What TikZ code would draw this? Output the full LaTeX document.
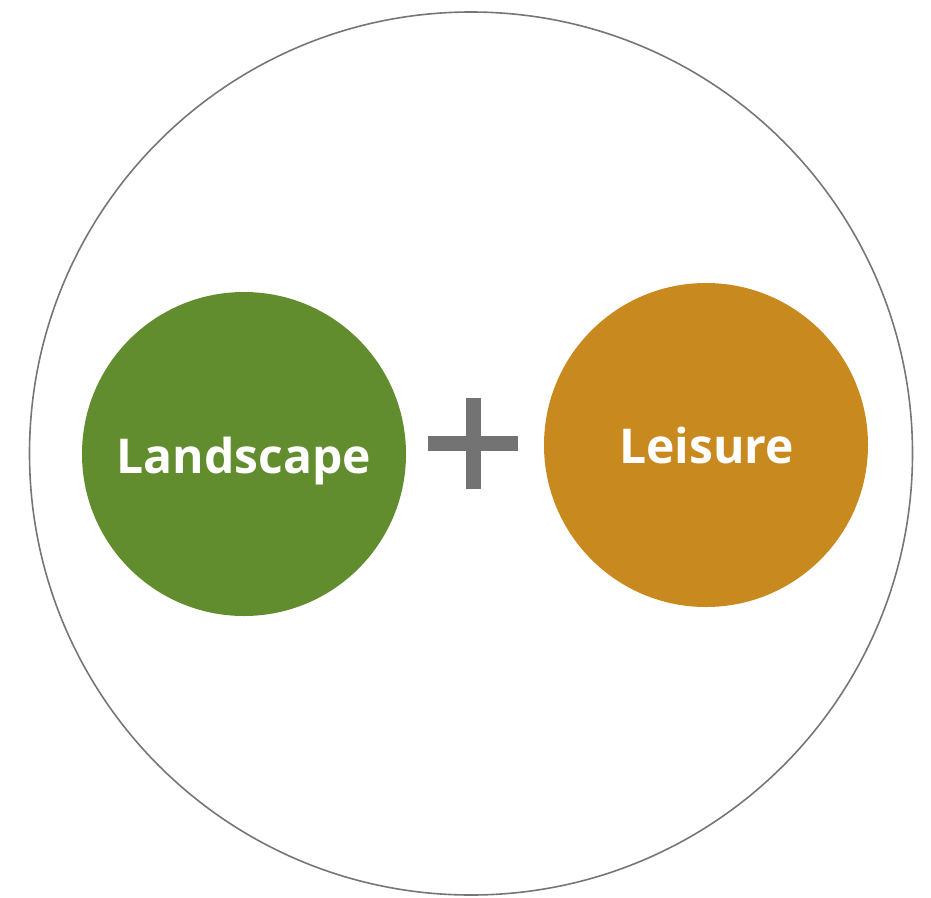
\documentclass[tikz,border=0pt]{standalone}
\usepackage{fontspec}
\setmainfont{Open Sans}
\definecolor{landgreen}{HTML}{628D2E}
\definecolor{leisorange}{HTML}{C8891F}
\definecolor{ringgray}{HTML}{767676}
\definecolor{plusgray}{HTML}{737373}
\tikzset{
  ball/.style={circle, minimum size=324pt, inner sep=0pt},
  balltext/.style={text=white, font=\fontsize{48}{48}\selectfont\bfseries, anchor=base}
}
\begin{document}
\begin{tikzpicture}[x=1pt,y=-1pt]
\useasboundingbox (0,0) rectangle (931,897);
% outer ring
\node[circle, draw=ringgray, line width=1.6pt, minimum size=883pt, inner sep=0pt] (ring) at (471,453.5) {};

% two circles
\node[ball, fill=landgreen] (land) at (244,454) {};
\node[ball, fill=leisorange] (leis) at (706,445) {};
\node[balltext] (landtxt) at (244,473) {Landscape};
\node[balltext] (leistxt) at (706.5,463) {Leisure};

% plus sign
\fill[plusgray] (428,436) rectangle (518,451);
\fill[plusgray] (466,398) rectangle (481,489);
\end{tikzpicture}
\end{document}
